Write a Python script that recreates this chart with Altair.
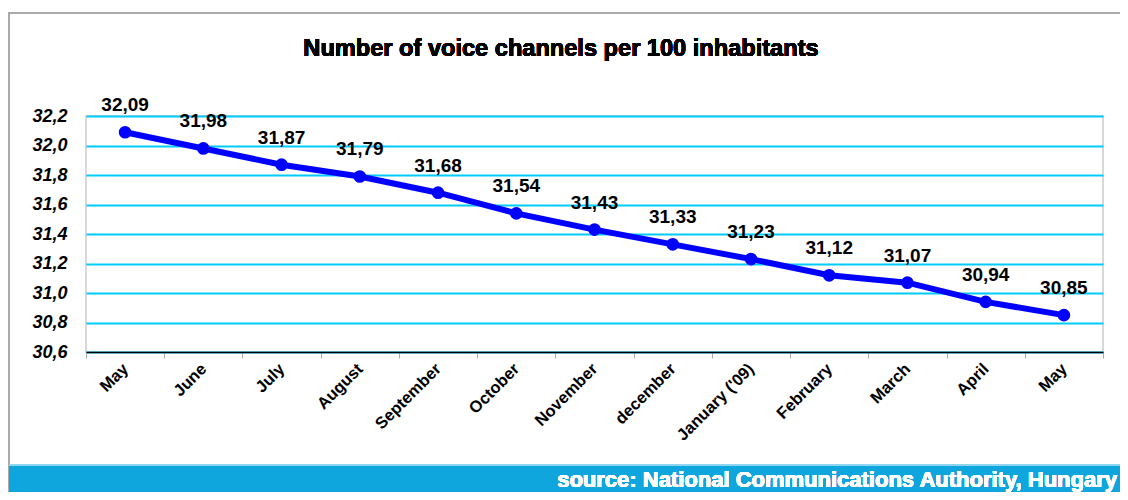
import json
import altair as alt
import pandas as pd

months = ["May", "June", "July", "August", "September", "October", "November",
          "december", "January ('09)", "February", "March", "April", "May"]
values = [32.09, 31.98, 31.87, 31.79, 31.68, 31.54, 31.43, 31.33, 31.23, 31.12, 31.07, 30.94, 30.85]
y_ticks = [30.6, 30.8, 31.0, 31.2, 31.4, 31.6, 31.8, 32.0, 32.2]
title_text = "Number of voice channels per 100 inhabitants"
source_text = "source: National Communications Authority, Hungary"

df = pd.DataFrame({
    "idx": list(range(len(months))),
    "value": values,
    "label": [f"{v:.2f}".replace(".", ",") for v in values],
})

FONT = "Liberation Sans, Arial, sans-serif"
label_expr = json.dumps(months) + "[datum.value]"

x_enc = alt.X(
    "idx:O",
    bandPosition=0.5,
    scale=alt.Scale(type="band", paddingInner=0, paddingOuter=0),
    axis=alt.Axis(
        title=None, labelExpr=label_expr, labelAngle=-45, labelAlign="right",
        labelBaseline="middle", labelFont=FONT, labelFontWeight="bold",
        labelFontSize=16.5, labelColor="#000000", labelPadding=8,
        tickBand="extent", ticks=True, tickSize=6, tickColor="#aaaaaa",
        domainColor="#000000", domainWidth=1.5, grid=False,
    ),
)
y_enc = alt.Y(
    "value:Q",
    scale=alt.Scale(domain=[30.6, 32.2], nice=False, zero=False),
    axis=alt.Axis(
        title=None, values=y_ticks,
        labelExpr="replace(format(datum.value, '.1f'), '.', ',')",
        labelFont=FONT, labelFontWeight="bold", labelFontStyle="italic",
        labelFontSize=18, labelColor="#000000", labelPadding=19,
        ticks=False, domain=False, grid=True, gridColor="#00ccff", gridWidth=2,
    ),
)

base = alt.Chart(df)

frame = base.mark_rect(filled=False, stroke="#aaaaaa", strokeWidth=1.5).encode(
    x=alt.value(-77), x2=alt.value(1045), y=alt.value(-103), y2=alt.value(390)
)
banner = base.mark_rect(fill="#0fa6de", stroke=None).encode(
    x=alt.value(-77), x2=alt.value(1045), y=alt.value(349), y2=alt.value(390)
)
banner_line = base.mark_rule(color="#8fd6f2", strokeWidth=2).encode(
    x=alt.value(-77), x2=alt.value(1045), y=alt.value(349)
)
banner_text = base.mark_text(
    text=source_text, font=FONT, fontWeight="bold", fontSize=22,
    color="#ffffff", align="right", baseline="middle"
).encode(x=alt.value(1031), y=alt.value(364))
title = base.mark_text(
    text=title_text, font=FONT, fontWeight="bold", fontSize=23.6,
    color="#000000", align="center", baseline="alphabetic"
).encode(x=alt.value(475), y=alt.value(-60))

line = base.mark_line(color="#0000ff", strokeWidth=6).encode(x=x_enc, y=y_enc)
pts = base.mark_circle(color="#0000ff", size=160, opacity=1).encode(x=x_enc, y=y_enc)
labels = base.mark_text(
    font=FONT, fontWeight="bold", fontSize=19, color="#000000",
    baseline="middle", dy=-27
).encode(x=x_enc, y=y_enc, text="label:N")

chart = alt.layer(
    frame, banner, banner_line, banner_text, title, line, pts, labels
).properties(
    width=1017, height=236,
    autosize=alt.AutoSizeParams(type="none"),
    padding={"left": 78, "top": 108, "right": 17, "bottom": 140},
    background="#ffffff",
).configure_view(stroke="#cccccc", strokeWidth=1.5)

chart.save("out.html", embed_options={"renderer": "svg", "actions": False})
